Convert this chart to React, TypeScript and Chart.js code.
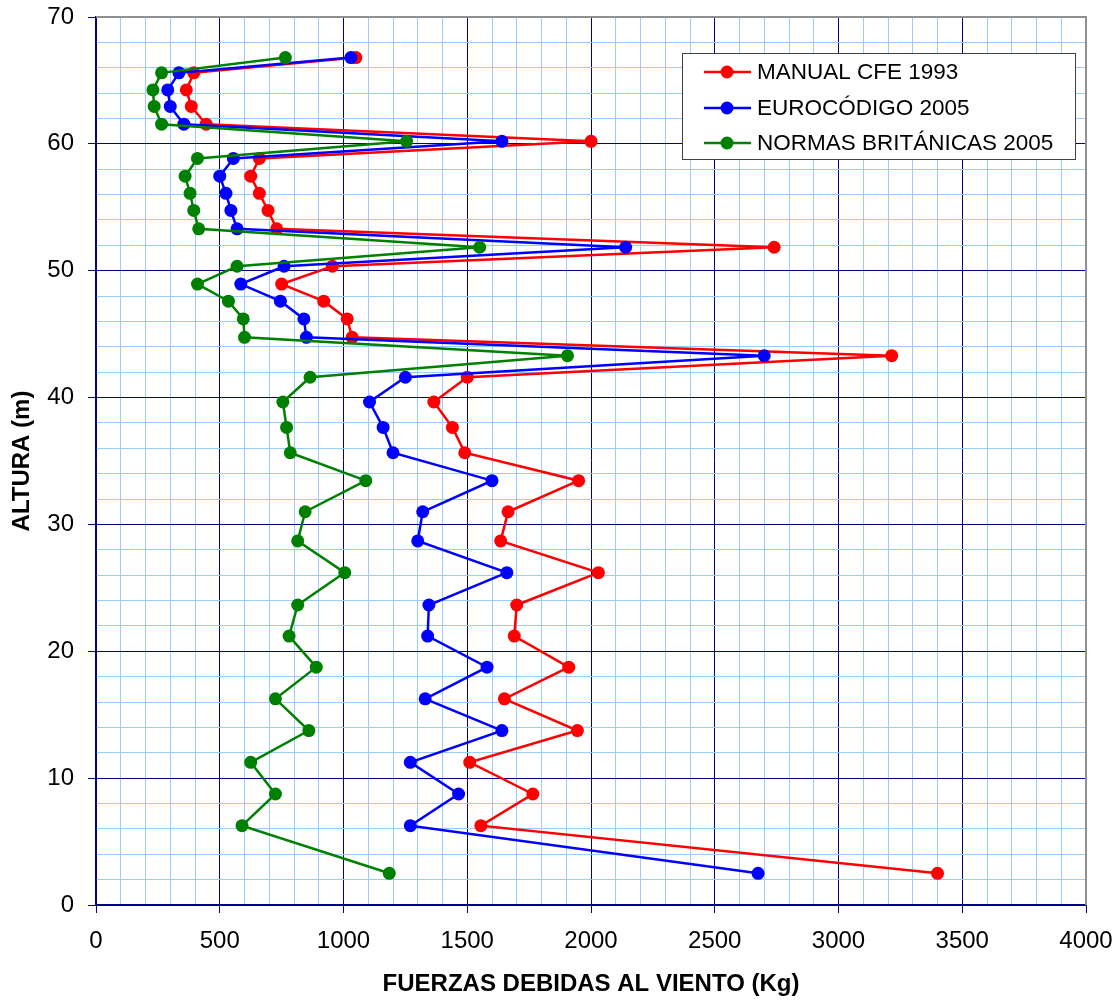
import React, { useEffect, useRef } from "react";
import { Chart, registerables } from "chart.js";

Chart.register(...registerables);

const heights = [2.5, 6.25, 8.75, 11.25, 13.75, 16.25, 18.75, 21.2, 23.65, 26.2, 28.7, 31.0, 33.45, 35.65, 37.65, 39.65, 41.6, 43.3, 44.75, 46.2, 47.6, 48.95, 50.35, 51.85, 53.3, 54.75, 56.1, 57.45, 58.85, 60.2, 61.55, 62.95, 64.25, 65.6, 66.8];

const cfe1993 = [3400, 1555, 1765, 1510, 1945, 1650, 1910, 1690, 1700, 2030, 1635, 1665, 1950, 1490, 1440, 1365, 1500, 3215, 1035, 1015, 920, 750, 955, 2740, 730, 695, 660, 625, 660, 2000, 445, 385, 365, 395, 1050];

const eurocodigo2005 = [2675, 1270, 1465, 1270, 1640, 1330, 1580, 1340, 1345, 1660, 1300, 1320, 1600, 1200, 1160, 1105, 1250, 2700, 850, 840, 745, 585, 760, 2140, 570, 545, 525, 500, 555, 1640, 355, 300, 290, 335, 1030];

const britanicas2005 = [1185, 590, 725, 625, 860, 725, 890, 780, 815, 1005, 815, 845, 1090, 785, 770, 755, 865, 1905, 600, 595, 535, 410, 570, 1550, 415, 395, 380, 360, 410, 1255, 265, 235, 230, 265, 765];

const seriesNames = ["MANUAL CFE 1993", "EUROCÓDIGO 2005", "NORMAS BRITÁNICAS 2005"];
const seriesColors = ["#FF0000", "#0000FF", "#008000"];
const seriesValues = [cfe1993, eurocodigo2005, britanicas2005];

const xTitle = "FUERZAS DEBIDAS AL VIENTO (Kg)";
const yTitle = "ALTURA (m)";

const FONT = "'Liberation Sans', Arial, sans-serif";
const NAVY = "#000080";
const MINOR = "#99CCFF";

const frameAndLegend = {
  id: "frameAndLegend",
  afterDraw(chart: any) {
    const { ctx, chartArea } = chart;
    ctx.save();
    ctx.strokeStyle = "#909090";
    ctx.lineWidth = 2;
    ctx.beginPath();
    ctx.moveTo(chartArea.left, chartArea.top);
    ctx.lineTo(chartArea.right, chartArea.top);
    ctx.lineTo(chartArea.right, chartArea.bottom);
    ctx.stroke();

    const bx = 682, by = 53, bw = 393, bh = 106;
    ctx.fillStyle = "#FFFFFF";
    ctx.fillRect(bx, by, bw, bh);
    ctx.strokeStyle = "#404040";
    ctx.lineWidth = 1;
    ctx.strokeRect(bx + 0.5, by + 0.5, bw, bh);
    const rows = [72, 108, 143];
    ctx.font = `22.5px ${FONT}`;
    ctx.textBaseline = "middle";
    ctx.textAlign = "left";
    seriesNames.forEach((name, i) => {
      const y = rows[i];
      ctx.strokeStyle = seriesColors[i];
      ctx.lineWidth = 2.5;
      ctx.beginPath();
      ctx.moveTo(704, y);
      ctx.lineTo(751, y);
      ctx.stroke();
      ctx.fillStyle = seriesColors[i];
      ctx.beginPath();
      ctx.arc(727, y, 6.5, 0, Math.PI * 2);
      ctx.fill();
      ctx.fillStyle = "#000000";
      ctx.fillText(name, 757, y + 1);
    });
    ctx.restore();
  },
};

export default function App() {
  const ref = useRef<HTMLCanvasElement | null>(null);

  useEffect(() => {
    if (!ref.current) return;
    const datasets = seriesValues.map((vals, i) => ({
      label: seriesNames[i],
      data: vals.map((v, j) => ({ x: v, y: heights[j] })),
      borderColor: seriesColors[i],
      backgroundColor: seriesColors[i],
      pointBackgroundColor: seriesColors[i],
      pointBorderColor: seriesColors[i],
      pointRadius: 6.5,
      pointBorderWidth: 0,
      borderWidth: 2.5,
      showLine: true,
      tension: 0,
      order: 3 - i,
    }));

    const chart = new Chart(ref.current, {
      type: "scatter",
      data: { datasets },
      plugins: [frameAndLegend],
      options: {
        animation: false,
        responsive: false,
        devicePixelRatio: 1,
        layout: { padding: { left: 0, top: 17, right: 32, bottom: 0 } },
        plugins: {
          legend: { display: false },
          tooltip: { enabled: false },
        },
        scales: {
          x: {
            type: "linear",
            min: 0,
            max: 4000,
            afterFit: (s: any) => {
              s.height = 95;
              s.paddingLeft = 0;
              s.paddingRight = 0;
            },
            ticks: {
              stepSize: 100,
              autoSkip: false,
              maxRotation: 0,
              padding: 14,
              color: "#000000",
              font: { family: FONT, size: 24 },
              callback: (v: any) => (Number(v) % 500 === 0 ? String(v) : ""),
            },
            grid: {
              color: (c: any) => (c.tick && c.tick.value % 500 === 0 ? NAVY : MINOR),
              tickColor: (c: any) => (c.tick && c.tick.value % 500 === 0 ? NAVY : "rgba(0,0,0,0)"),
              lineWidth: 1,
              tickLength: 8,
            },
            border: { color: NAVY, width: 1.5 },
            title: {
              display: true,
              text: xTitle,
              color: "#000000",
              font: { family: FONT, size: 24, weight: "bold" },
              padding: { top: 0, bottom: 1 },
            },
          },
          y: {
            type: "linear",
            min: 0,
            max: 70,
            afterFit: (s: any) => {
              s.width = 96;
              s.paddingTop = 0;
              s.paddingBottom = 0;
            },
            ticks: {
              stepSize: 2,
              autoSkip: false,
              padding: 14,
              color: "#000000",
              font: { family: FONT, size: 24 },
              callback: (v: any) => (Number(v) % 10 === 0 ? String(v) : ""),
            },
            grid: {
              color: (c: any) => (c.tick && c.tick.value % 10 === 0 ? NAVY : MINOR),
              tickColor: (c: any) => (c.tick && c.tick.value % 10 === 0 ? NAVY : "rgba(0,0,0,0)"),
              lineWidth: 1,
              tickLength: 8,
            },
            border: { color: NAVY, width: 1.5 },
            title: {
              display: true,
              text: yTitle,
              color: "#000000",
              font: { family: FONT, size: 24, weight: "bold" },
              padding: { top: 8, bottom: 0 },
            },
          },
        },
      },
    } as any);
    return () => chart.destroy();
  }, []);

  return (
    <div style={{ position: "absolute", left: 0, top: 0, width: 1118, height: 1000, background: "#FFFFFF" }}>
      <canvas ref={ref} width={1118} height={1000} style={{ width: 1118, height: 1000, display: "block" }} />
    </div>
  );
}
